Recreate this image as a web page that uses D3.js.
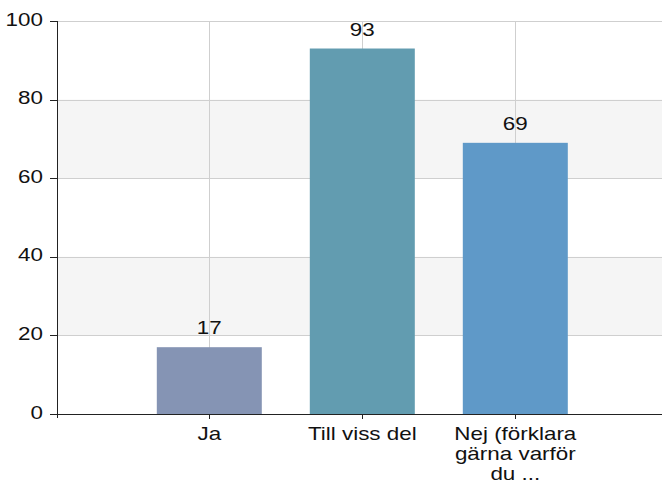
<!DOCTYPE html>
<html>
<head>
<meta charset="utf-8">
<script src="https://cdn.jsdelivr.net/npm/d3@7"></script>
<style>
  html, body { margin: 0; padding: 0; background: #fff; }
  svg { display: block; }
  text { font-family: "Liberation Sans", Arial, sans-serif; fill: #111; }
</style>
</head>
<body>
<svg id="chart" width="662" height="485"></svg>
<script>
const categories = ["Ja", "Till viss del", "Nej (förklara gärna varför du ..."];
const categoryLines = [["Ja"], ["Till viss del"], ["Nej (förklara", "gärna varför", "du ..."]];
const values = [17, 93, 69];
const colors = ["#8594b4", "#629cb0", "#5f99c8"];
const yTicks = [0, 20, 40, 60, 80, 100];

(function () {
const svg = d3.select("#chart");
const pLeft = 57, pTop = 21, pBottom = 414;
const SX = 1.26, FS = 17.8;

const x = d3.scalePoint().domain(["__s", ...categories, "__e"]).range([56.3, 668.3]);
const y = d3.scaleLinear().domain([0, 100]).range([pBottom, pTop]);
const barW = 105;

// alternating bands
const bands = [[20, 40], [60, 80]];
svg.append("g").selectAll("rect").data(bands).join("rect")
  .attr("x", pLeft).attr("width", 662 - pLeft)
  .attr("y", d => y(d[1])).attr("height", d => y(d[0]) - y(d[1]))
  .attr("fill", "#f5f5f5");

// horizontal gridlines
svg.append("g").selectAll("line").data(yTicks.filter(t => t > 0)).join("line")
  .attr("x1", pLeft).attr("x2", 662)
  .attr("y1", d => Math.round(y(d)) + 0.5).attr("y2", d => Math.round(y(d)) + 0.5)
  .attr("stroke", "#cfcfcf").attr("stroke-width", 1);

// vertical gridlines
svg.append("g").selectAll("line").data(categories).join("line")
  .attr("x1", d => Math.floor(x(d)) + 0.5).attr("x2", d => Math.floor(x(d)) + 0.5)
  .attr("y1", pTop).attr("y2", pBottom)
  .attr("stroke", "#cfcfcf").attr("stroke-width", 1);

// bars
svg.append("g").selectAll("rect").data(values).join("rect")
  .attr("x", (d, i) => x(categories[i]) - barW / 2)
  .attr("width", barW)
  .attr("y", d => y(d))
  .attr("height", d => pBottom - y(d))
  .attr("fill", (d, i) => colors[i]);

// value labels
svg.append("g").selectAll("text").data(values).join("text")
  .attr("transform", (d, i) => `translate(${x(categories[i])},${y(d) - 13}) scale(${SX},1)`)
  .attr("text-anchor", "middle")
  .style("font-size", FS + "px")
  .text(d => d);

// y axis
const yAxis = svg.append("g");
yAxis.append("line").attr("x1", pLeft + 0.5).attr("x2", pLeft + 0.5).attr("y1", pTop).attr("y2", pBottom + 4)
  .attr("stroke", "#222");
yAxis.selectAll("line.tick").data(yTicks).join("line").attr("class", "tick")
  .attr("x1", 50).attr("x2", pLeft)
  .attr("y1", d => Math.round(y(d)) + 0.5).attr("y2", d => Math.round(y(d)) + 0.5)
  .attr("stroke", "#222");
yAxis.selectAll("text").data(yTicks).join("text")
  .attr("transform", d => `translate(43,${y(d) + 4.5}) scale(${SX},1)`)
  .attr("text-anchor", "end")
  .style("font-size", FS + "px")
  .text(d => d);

// x axis
const xAxis = svg.append("g");
xAxis.append("line").attr("x1", pLeft).attr("x2", 662).attr("y1", pBottom + 0.5).attr("y2", pBottom + 0.5)
  .attr("stroke", "#222");
xAxis.selectAll("line.tick").data(categories).join("line").attr("class", "tick")
  .attr("x1", d => Math.floor(x(d)) + 0.5).attr("x2", d => Math.floor(x(d)) + 0.5)
  .attr("y1", pBottom).attr("y2", pBottom + 5)
  .attr("stroke", "#222");
const lbl = xAxis.selectAll("g.lbl").data(categories).join("g").attr("class", "lbl");
lbl.each(function (d, i) {
  const g = d3.select(this);
  categoryLines[i].forEach((line, j) => {
    g.append("text")
      .attr("transform", `translate(${x(d)},${440 + j * 20}) scale(${SX},1)`)
      .attr("text-anchor", "middle")
      .style("font-size", FS + "px")
      .text(line);
  });
});
})();
</script>
</body>
</html>
